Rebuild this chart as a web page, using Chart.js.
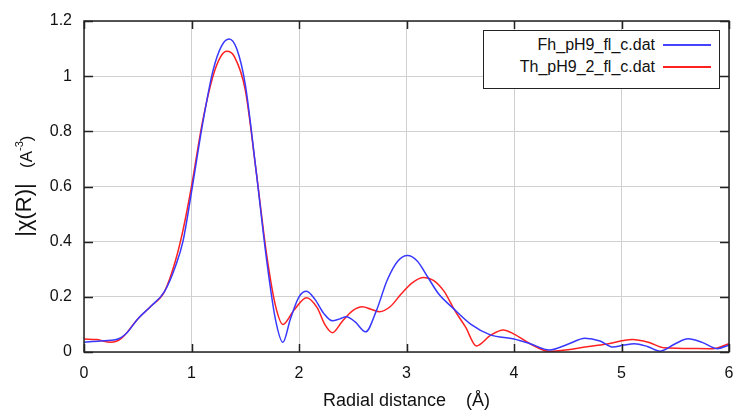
<!DOCTYPE html>
<html>
<head>
<meta charset="utf-8">
<script src="https://cdn.jsdelivr.net/npm/chart.js@4.4.1/dist/chart.umd.min.js"></script>
<style>
    html, body { margin: 0; padding: 0; background: #fff; }
    #wrap { position: relative; width: 734px; height: 412px; }
    #legend {
        position: absolute; left: 483px; top: 30px; width: 235px; height: 57px;
        border: 1px solid #222; background: #fff;
        font-family: "Liberation Sans", Arial, sans-serif; font-size: 16px; color: #111;
    }
    .row { position: absolute; right: 8px; display: flex; align-items: center; }
    .row span { margin-right: 8px; }
    .row i { display: inline-block; width: 48px; height: 0; border-top: 2px solid; }
</style>
</head>
<body>
<div id="wrap">
    <canvas id="chart" width="734" height="412"></canvas>
    <div id="legend">
        <div class="row" style="top:5px"><span>Fh_pH9_fl_c.dat</span><i style="border-color:#4444ff"></i></div>
        <div class="row" style="top:27px"><span>Th_pH9_2_fl_c.dat</span><i style="border-color:#ff2020"></i></div>
    </div>
</div>
<script>
// Radial distance (Å) and |chi(R)|
const fhR = [0, 0.15, 0.3, 0.4, 0.5, 0.62, 0.75, 0.85, 0.92, 1.0, 1.1, 1.2, 1.28, 1.35, 1.42, 1.5, 1.6, 1.7, 1.78, 1.85, 1.92, 2.0, 2.07, 2.15, 2.23, 2.31, 2.38, 2.44, 2.52, 2.62, 2.72, 2.82, 2.92, 3.01, 3.1, 3.2, 3.3, 3.43, 3.6, 3.78, 4.0, 4.15, 4.33, 4.5, 4.66, 4.8, 4.92, 5.02, 5.12, 5.24, 5.36, 5.5, 5.62, 5.75, 5.89, 6.0];
const fhChi = [0.035, 0.04, 0.045, 0.07, 0.12, 0.165, 0.22, 0.31, 0.4, 0.58, 0.82, 1.02, 1.11, 1.135, 1.1, 0.97, 0.66, 0.33, 0.12, 0.035, 0.12, 0.2, 0.22, 0.19, 0.14, 0.113, 0.12, 0.128, 0.11, 0.073, 0.15, 0.26, 0.33, 0.35, 0.33, 0.27, 0.21, 0.16, 0.1, 0.062, 0.047, 0.03, 0.007, 0.028, 0.05, 0.04, 0.018, 0.025, 0.03, 0.02, 0.003, 0.03, 0.048, 0.035, 0.012, 0.025];

const thR = [0, 0.12, 0.25, 0.35, 0.5, 0.62, 0.75, 0.85, 0.92, 1.0, 1.1, 1.2, 1.27, 1.33, 1.4, 1.5, 1.6, 1.7, 1.78, 1.85, 1.95, 2.07, 2.17, 2.24, 2.31, 2.4, 2.5, 2.59, 2.67, 2.75, 2.85, 2.95, 3.05, 3.16, 3.25, 3.35, 3.45, 3.55, 3.65, 3.78, 3.9, 4.0, 4.15, 4.33, 4.5, 4.66, 4.85, 5.1, 5.25, 5.4, 5.6, 5.85, 6.0];
const thChi = [0.047, 0.045, 0.035, 0.05, 0.12, 0.165, 0.22, 0.33, 0.44, 0.6, 0.83, 1.0, 1.07, 1.09, 1.07, 0.95, 0.66, 0.35, 0.17, 0.1, 0.15, 0.197, 0.16, 0.1, 0.07, 0.11, 0.15, 0.164, 0.155, 0.146, 0.165, 0.21, 0.25, 0.27, 0.26, 0.22, 0.15, 0.09, 0.022, 0.06, 0.08, 0.065, 0.03, 0.002, 0.008, 0.018, 0.028, 0.045, 0.035, 0.015, 0.013, 0.012, 0.03];

const xTicks = [0, 1, 2, 3, 4, 5, 6];
const yTicks = [0, 0.2, 0.4, 0.6, 0.8, 1, 1.2];

const FONT = '"Liberation Sans", Arial, sans-serif';

function toPoints(xs, ys) {
    return xs.map((x, i) => ({ x: x, y: ys[i] }));
}

// frame, inward tick marks and the y axis title
const framePlugin = {
    id: 'frame',
    afterDraw(chart) {
        const { ctx, chartArea: a, scales } = chart;
        ctx.save();
        ctx.strokeStyle = '#222';
        ctx.lineWidth = 1.5;
        ctx.strokeRect(a.left, a.top, a.right - a.left, a.bottom - a.top);
        ctx.beginPath();
        xTicks.forEach(v => {
            const px = Math.round(scales.x.getPixelForValue(v)) + 0.5;
            ctx.moveTo(px, a.bottom); ctx.lineTo(px, a.bottom - 8);
            ctx.moveTo(px, a.top); ctx.lineTo(px, a.top + 8);
        });
        yTicks.forEach(v => {
            const py = Math.round(scales.y.getPixelForValue(v)) + 0.5;
            ctx.moveTo(a.left, py); ctx.lineTo(a.left + 9, py);
            ctx.moveTo(a.right, py); ctx.lineTo(a.right - 9, py);
        });
        ctx.stroke();

        // y title: "|χ(R)|" then "(A-3)" with a raised exponent
        ctx.fillStyle = '#111';
        ctx.textBaseline = 'middle';
        ctx.translate(25, 0);
        ctx.rotate(-Math.PI / 2);
        ctx.textAlign = 'center';
        ctx.font = '22px ' + FONT;
        ctx.fillText('|χ(R)|', -210, 0);
        ctx.textAlign = 'left';
        let x = -168;
        ctx.font = '17px ' + FONT;
        ctx.fillText('(A', x, 2);
        x += ctx.measureText('(A').width;
        ctx.font = '11px ' + FONT;
        ctx.fillText('-3', x, -5);
        x += ctx.measureText('-3').width;
        ctx.font = '17px ' + FONT;
        ctx.fillText(')', x, 2);
        ctx.restore();
    }
};

new Chart(document.getElementById('chart'), {
    type: 'line',
    data: {
        datasets: [
            {
                label: 'Fh_pH9_fl_c.dat',
                data: toPoints(fhR, fhChi),
                borderColor: '#3838ff',
                borderWidth: 1.5,
                pointRadius: 0,
                cubicInterpolationMode: 'monotone'
            },
            {
                label: 'Th_pH9_2_fl_c.dat',
                data: toPoints(thR, thChi),
                borderColor: '#ff2020',
                borderWidth: 1.5,
                pointRadius: 0,
                cubicInterpolationMode: 'monotone'
            }
        ]
    },
    options: {
        responsive: false,
        animation: false,
        layout: { padding: { top: 21, right: 5, left: 0, bottom: 0 } },
        plugins: {
            legend: { display: false },
            tooltip: { enabled: false }
        },
        scales: {
            x: {
                type: 'linear',
                min: 0,
                max: 6,
                afterBuildTicks: s => { s.ticks = xTicks.map(v => ({ value: v })); },
                afterFit: s => { s.height = 60; s.paddingLeft = 0; s.paddingRight = 0; },
                grid: { color: '#d0d0d0', drawTicks: false },
                border: { display: false },
                ticks: { color: '#111', font: { family: FONT, size: 16 }, padding: 12 },
                title: {
                    display: true,
                    text: 'Radial distance    (Å)',
                    color: '#111',
                    font: { family: FONT, size: 18 },
                    padding: { top: 8, bottom: 0 }
                }
            },
            y: {
                min: 0,
                max: 1.2,
                afterBuildTicks: s => { s.ticks = yTicks.map(v => ({ value: v })); },
                afterFit: s => { s.width = 84; s.paddingTop = 0; s.paddingBottom = 0; },
                grid: { color: '#d0d0d0', drawTicks: false },
                border: { display: false },
                ticks: {
                    color: '#111',
                    font: { family: FONT, size: 16 },
                    padding: 12,
                    callback: v => String(v)
                }
            }
        }
    },
    plugins: [framePlugin]
});
</script>
</body>
</html>
